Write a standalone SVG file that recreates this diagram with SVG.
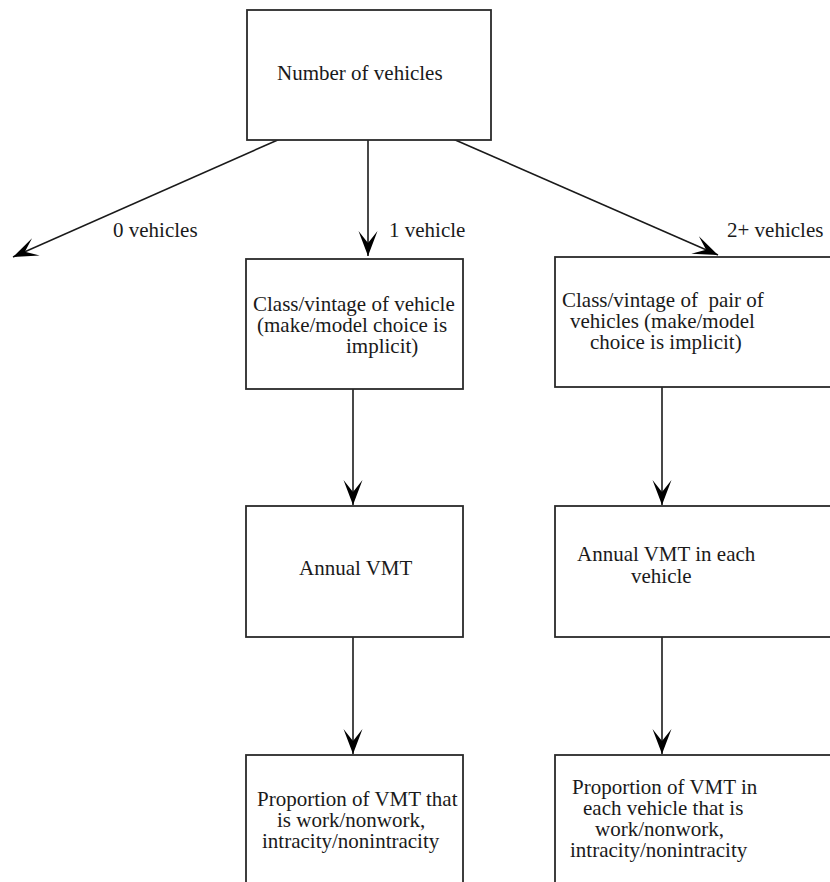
<svg xmlns="http://www.w3.org/2000/svg" width="830" height="882" viewBox="0 0 830 882">
  <style>
    .box { fill: #ffffff; stroke: #2a2a2a; stroke-width: 1.8; }
    .edge { fill: none; stroke: #1a1a1a; stroke-width: 1.6; marker-end: url(#arrow); }
    text { font-family: "Liberation Serif", "Times New Roman", serif; font-size: 21px; fill: #1a1a1a; }
  </style>
  <defs>
    <marker id="arrow" markerUnits="userSpaceOnUse" viewBox="-26 -10 27 20" refX="0" refY="0" markerWidth="27" markerHeight="20" orient="auto">
      <path d="M0,0 L-25,-9.5 L-13,0 L-25,9.5 Z" fill="#000000"/>
    </marker>
  </defs>
  <rect width="830" height="882" fill="#ffffff"/>

  <!-- connectors -->
  <g id="connectors">
    <line class="edge" x1="280" y1="139" x2="13" y2="257"/>
    <line class="edge" x1="368" y1="140" x2="368" y2="256"/>
    <line class="edge" x1="453" y1="139" x2="718" y2="255"/>
    <line class="edge" x1="353" y1="389" x2="353" y2="505"/>
    <line class="edge" x1="662" y1="387" x2="662" y2="505"/>
    <line class="edge" x1="353" y1="637" x2="353" y2="754"/>
    <line class="edge" x1="662" y1="637" x2="662" y2="754"/>
  </g>

  <!-- connector labels -->
  <g id="edge-labels">
    <text x="113" y="237">0 vehicles</text>
    <text x="389" y="237">1 vehicle</text>
    <text x="727" y="237">2+ vehicles</text>
  </g>

  <g id="number-of-vehicles">
    <rect class="box" x="247" y="10" width="244" height="130"/>
    <text x="277" y="80">Number of vehicles</text>
  </g>

  <g id="class-one">
    <rect class="box" x="246" y="259" width="217" height="130"/>
    <text x="253" y="311">Class/vintage of vehicle</text>
    <text x="257" y="332">(make/model choice is</text>
    <text x="346" y="353">implicit)</text>
  </g>

  <g id="class-pair">
    <rect class="box" x="555" y="257" width="290" height="130"/>
    <text x="562" y="307" xml:space="preserve">Class/vintage of  pair of</text>
    <text x="570" y="328">vehicles (make/model</text>
    <text x="590" y="349">choice is implicit)</text>
  </g>

  <g id="vmt-one">
    <rect class="box" x="246" y="506" width="217" height="131"/>
    <text x="299" y="575">Annual VMT</text>
  </g>

  <g id="vmt-each">
    <rect class="box" x="555" y="506" width="290" height="131"/>
    <text x="577" y="561">Annual VMT in each</text>
    <text x="631" y="583">vehicle</text>
  </g>

  <g id="proportion-one">
    <rect class="box" x="246" y="755" width="217" height="160"/>
    <text x="257" y="806">Proportion of VMT that</text>
    <text x="277" y="827">is work/nonwork,</text>
    <text x="262" y="848">intracity/nonintracity</text>
  </g>

  <g id="proportion-each">
    <rect class="box" x="555" y="755" width="290" height="160"/>
    <text x="572" y="794">Proportion of VMT in</text>
    <text x="583" y="815">each vehicle that is</text>
    <text x="595" y="836">work/nonwork,</text>
    <text x="570" y="857">intracity/nonintracity</text>
  </g>
</svg>
